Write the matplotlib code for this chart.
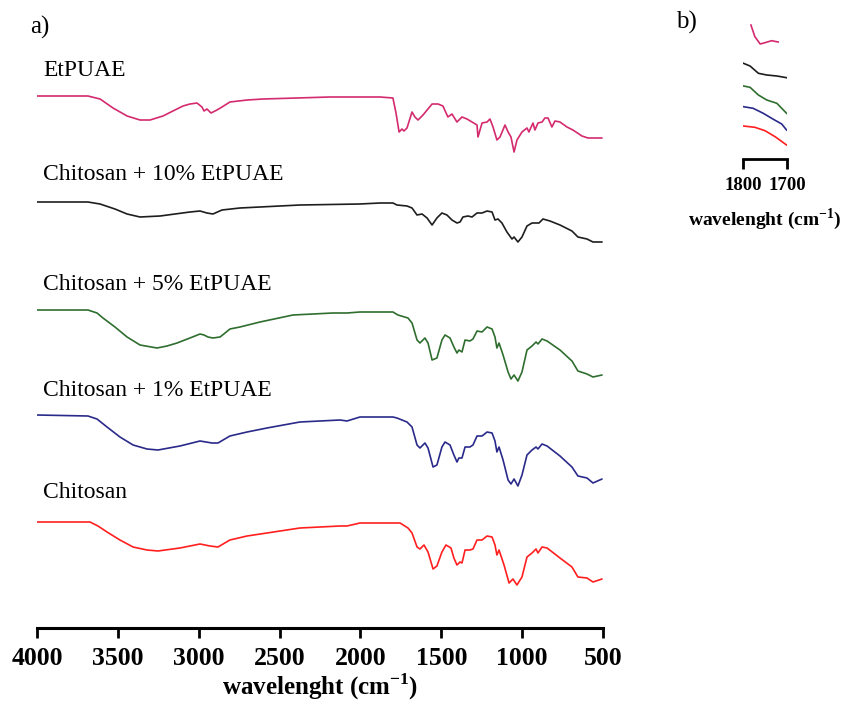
import matplotlib
matplotlib.use("Agg")
import matplotlib.pyplot as plt

plt.rcParams['font.family'] = ['Liberation Serif', 'DejaVu Serif']
plt.rcParams['mathtext.fontset'] = 'custom'
plt.rcParams['mathtext.rm'] = 'Liberation Serif'
plt.rcParams['mathtext.bf'] = 'Liberation Serif:bold'

# ---------------- data (a) full spectra ----------------
names = ["EtPUAE", "Chitosan + 10% EtPUAE", "Chitosan + 5% EtPUAE",
         "Chitosan + 1% EtPUAE", "Chitosan"]
colors = ["#d42a6e", "#1e1e1e", "#2f6e2f", "#2a2a8a", "#ff1f1f"]
offsets = [532, 426, 318, 213, 106]  # vertical stacking offsets (a.u.)

wn_etpuae = [4000, 3685, 3610, 3530, 3443, 3363, 3301, 3221, 3147, 3097, 3054, 3011,
             2980, 2967, 2949, 2924, 2887, 2856, 2807, 2700, 2602, 2188, 1879, 1799,
             1780, 1761, 1743, 1731, 1712, 1681, 1663, 1644, 1613, 1557, 1520, 1490,
             1459, 1434, 1403, 1372, 1341, 1310, 1279, 1273, 1248, 1217, 1199, 1180,
             1156, 1137, 1106, 1087, 1069, 1050, 1032, 1001, 970, 958, 933, 921, 902,
             877, 859, 840, 816, 797, 766, 723, 686, 630, 593, 549, 506]
t_etpuae = [0, 0, -3, -12, -20, -24, -24, -20, -14, -10, -8, -7,
            -11, -15, -13, -17, -14, -11, -6, -4, -3, -1, -1, -2,
            -17, -36, -33, -35, -32, -16, -21, -24, -19, -8, -8, -10,
            -21, -18, -26, -21, -23, -26, -29, -41, -27, -26, -23, -31,
            -44, -41, -29, -36, -41, -56, -44, -36, -32, -36, -27, -34, -27,
            -26, -22, -22, -31, -25, -26, -31, -34, -40, -42, -42, -42]

wn_ch10 = [4000, 3685, 3610, 3518, 3443, 3363, 3239, 3054, 2992, 2949, 2912, 2856,
           2745, 2374, 2003, 1879, 1799, 1774, 1712, 1681, 1650, 1619, 1588, 1557,
           1527, 1496, 1465, 1434, 1403, 1384, 1366, 1335, 1310, 1279, 1248, 1217,
           1186, 1168, 1149, 1125, 1094, 1063, 1050, 1026, 1001, 970, 939, 914, 896,
           871, 828, 766, 692, 655, 599, 562, 506]
t_ch10 = [0, 0, -2, -7, -12, -15, -14, -10, -9, -11, -12, -8,
          -6, -3, -2, -1, -1, -3, -4, -6, -13, -12, -16, -23,
          -16, -11, -13, -18, -21, -20, -15, -14, -15, -11, -11, -9,
          -10, -18, -17, -21, -30, -37, -35, -40, -35, -24, -21, -21, -21,
          -17, -19, -23, -29, -35, -37, -40, -40]

wn_ch5 = [4000, 3685, 3629, 3592, 3518, 3443, 3363, 3258, 3196, 3134, 3054, 2992,
          2967, 2943, 2912, 2868, 2837, 2807, 2745, 2621, 2417, 2170, 2083, 2003,
          1879, 1799, 1768, 1706, 1681, 1650, 1632, 1601, 1582, 1557, 1527, 1496,
          1477, 1446, 1422, 1403, 1391, 1372, 1353, 1323, 1304, 1279, 1248, 1217,
          1186, 1168, 1156, 1143, 1118, 1087, 1069, 1050, 1026, 1001, 970, 939,
          914, 902, 877, 846, 766, 692, 655, 599, 562, 506]
t_ch5 = [0, 0, -3, -8, -17, -27, -35, -38, -36, -33, -28, -24,
         -25, -27, -28, -27, -23, -19, -17, -12, -5, -3, -3, -2,
         -2, -2, -5, -8, -13, -30, -33, -28, -33, -50, -48, -30,
         -25, -28, -37, -43, -40, -42, -30, -31, -29, -21, -22, -17,
         -19, -27, -38, -33, -45, -62, -69, -65, -71, -62, -40, -36,
         -32, -34, -29, -31, -40, -51, -61, -64, -67, -65]

wn_ch1 = [4000, 3685, 3629, 3567, 3487, 3406, 3320, 3252, 3116, 2992, 2918, 2881,
          2807, 2701, 2578, 2374, 2126, 2083, 2003, 1799, 1774, 1712, 1681, 1650,
          1632, 1601, 1582, 1551, 1527, 1496, 1477, 1446, 1422, 1403, 1391, 1372,
          1353, 1323, 1304, 1279, 1248, 1217, 1186, 1168, 1156, 1143, 1118, 1087,
          1069, 1050, 1026, 1001, 970, 939, 914, 902, 877, 846, 766, 692, 655, 599,
          562, 506]
t_ch1 = [0, -1, -4, -12, -22, -30, -34, -35, -31, -26, -28, -28,
         -21, -17, -13, -7, -5, -6, -2, -2, -3, -7, -12, -30,
         -33, -28, -33, -52, -50, -32, -27, -30, -40, -47, -43, -43,
         -32, -32, -30, -21, -21, -17, -18, -26, -37, -32, -45, -65,
         -69, -64, -71, -60, -40, -35, -32, -34, -29, -31, -41, -52, -61, -63,
         -68, -64]

wn_ch = [4000, 3672, 3623, 3567, 3487, 3406, 3320, 3252, 3116, 2992, 2930, 2881,
         2807, 2701, 2578, 2374, 2126, 2083, 2003, 1755, 1706, 1681, 1650, 1632,
         1607, 1582, 1551, 1527, 1496, 1471, 1440, 1422, 1403, 1384, 1372, 1353,
         1323, 1304, 1279, 1248, 1217, 1186, 1168, 1156, 1143, 1112, 1081, 1057,
         1032, 1001, 970, 939, 914, 902, 877, 846, 766, 692, 655, 599, 562, 506]
t_ch = [0, 0, -4, -10, -18, -25, -28, -29, -26, -22, -24, -25,
        -18, -14, -11, -6, -4, -4, -1, -1, -6, -11, -25, -27,
        -23, -30, -47, -44, -30, -23, -26, -36, -43, -40, -41, -28,
        -28, -27, -18, -18, -14, -15, -23, -33, -28, -43, -61, -57,
        -63, -55, -35, -31, -27, -31, -25, -26, -36, -45, -55, -56, -60, -57]

spectra_wn = [wn_etpuae, wn_ch10, wn_ch5, wn_ch1, wn_ch]
spectra_t = [t_etpuae, t_ch10, t_ch5, t_ch1, t_ch]

xticks = [4000, 3500, 3000, 2500, 2000, 1500, 1000, 500]

# ---------------- data (b) carbonyl region zoom ----------------
zoom_offsets = [134, 95.7, 73, 52.3, 33]
zwn_etpuae = [1782, 1773, 1761, 1750, 1735, 1720]
zt_etpuae = [0, -11.7, -19, -17.7, -15.7, -17]
zwn_ch10 = [1799, 1784, 1765, 1746, 1723, 1701]
zt_ch10 = [0, -2.7, -10, -11.7, -12.7, -14.4]
zwn_ch5 = [1799, 1784, 1765, 1746, 1723, 1701]
zt_ch5 = [0, -1.3, -9, -14, -17.3, -27.3]
zwn_ch1 = [1799, 1777, 1754, 1731, 1712, 1701]
zt_ch1 = [0, -1.6, -6.6, -12.6, -17.3, -23.3]
zwn_ch = [1799, 1773, 1750, 1727, 1701]
zt_ch = [0, -1.3, -4.7, -10.7, -19]
zoom_wn = [zwn_etpuae, zwn_ch10, zwn_ch5, zwn_ch1, zwn_ch]
zoom_t = [zt_etpuae, zt_ch10, zt_ch5, zt_ch1, zt_ch]

W, H = 847, 709
fig = plt.figure(figsize=(W / 100, H / 100), dpi=100)

# main axes
ax = fig.add_axes([37 / W, (H - 628) / H, 566 / W, 608 / H])
for wn, t, off, c in zip(spectra_wn, spectra_t, offsets, colors):
    ax.plot(wn, [off + v for v in t], color=c, lw=1.2,
            solid_joinstyle='round', solid_capstyle='round')
ax.set_xlim(4000, 500)
ax.set_ylim(0, 608)
ax.set_xticks(xticks)
ax.set_xticklabels([str(v) for v in xticks], fontsize=18.5, fontweight='bold')
for s in ['left', 'top', 'right']:
    ax.spines[s].set_visible(False)
ax.spines['bottom'].set_linewidth(2.2)
ax.set_yticks([])
ax.tick_params(axis='x', direction='out', length=7, width=2, pad=7)
ax.set_xlabel(r'wavelenght (cm$^{\mathbf{-1}}$)', fontsize=18, fontweight='bold', labelpad=1)

# curve labels
label_y = [70, 175, 284, 390, 493]
for name, yy in zip(names, label_y):
    fig.text(43 / W, 1 - yy / H, name, fontsize=17, va='center', ha='left')
fig.text(30 / W, 1 - 27 / H, 'a)', fontsize=18, va='center', ha='left')
fig.text(676 / W, 1 - 22 / H, 'b)', fontsize=18, va='center', ha='left')

# inset axes
axi = fig.add_axes([743 / W, (H - 159) / H, 44 / W, 144 / H])
for wn, t, off, c in zip(zoom_wn, zoom_t, zoom_offsets, colors):
    axi.plot(wn, [off + v for v in t], color=c, lw=1.2, solid_joinstyle='round')
axi.set_xlim(1800, 1700)
axi.set_ylim(0, 144)
axi.set_xticks([1800, 1700])
axi.set_xticklabels(['1800', '1700'], fontsize=13.5, fontweight='bold')
for s in ['left', 'top', 'right']:
    axi.spines[s].set_visible(False)
axi.spines['bottom'].set_linewidth(2)
axi.set_yticks([])
axi.tick_params(axis='x', direction='out', length=7, width=2, pad=6)
axi.set_xlabel(r'wavelenght (cm$^{\mathbf{-1}}$)', fontsize=14, fontweight='bold', labelpad=9)

fig.savefig('out.png', dpi=100)
